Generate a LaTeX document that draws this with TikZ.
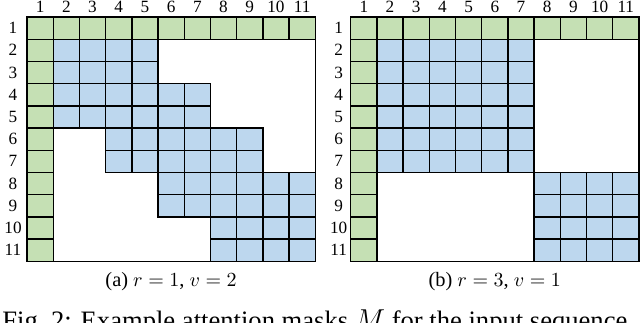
\documentclass[tikz,border=0pt]{standalone}
\usepackage{fontspec}
\setmainfont{Liberation Serif}
\usetikzlibrary{positioning}
\definecolor{keep}{HTML}{C5E0B4}
\definecolor{attend}{HTML}{BDD7EE}
\tikzset{
  cellg/.style={draw=black, line width=0.7pt, fill=keep},
  cellb/.style={draw=black, line width=0.7pt, fill=attend},
  frame/.style={draw=black, line width=0.7pt},
  idx/.style={font=\fontsize{8.6}{10}\selectfont, inner sep=0pt},
  sub/.style={font=\fontsize{10.2}{12}\selectfont, inner sep=0pt},
}
\newcommand{\cw}{26.2}
\newcommand{\ch}{22.2}

\begin{document}
\begin{tikzpicture}[x=0.5pt, y=-0.5pt]
\useasboundingbox (0,0) rectangle (640,322);

% =========================================================================
% (a) r = 1, v = 2
% =========================================================================
\begin{scope}[shift={(27,17)}]
  \draw[frame] (0,0) rectangle (11*\cw,11*\ch);
  \foreach \ra/\rb/\ca/\cb in {2/3/2/5, 4/5/2/7, 6/7/4/9, 8/9/6/11, 10/11/8/11}
    \foreach \i in {\ra,...,\rb}
      \foreach \j in {\ca,...,\cb}
        \draw[cellb] ({(\j-1)*\cw},{(\i-1)*\ch}) rectangle ++(\cw,\ch);
  \foreach \k in {1,...,11} {
    \draw[cellg] ({(\k-1)*\cw},0) rectangle ++(\cw,\ch);
    \draw[cellg] (0,{(\k-1)*\ch}) rectangle ++(\cw,\ch);
    \node[idx] (ca\k) at ({(\k-0.5)*\cw},-10) {\k};
    \node[idx] (ra\k) at (-14,{(\k-0.5)*\ch}) {\k};
  }
  \node[sub] (suba) at (5.5*\cw,265) {(a) $r=1$, $v=2$};
\end{scope}

% =========================================================================
% (b) r = 3, v = 1
% =========================================================================
\begin{scope}[shift={(350.7,17)}]
  \draw[frame] (0,0) rectangle (11*\cw,11*\ch);
  \foreach \ra/\rb/\ca/\cb in {2/7/2/7, 8/11/8/11}
    \foreach \i in {\ra,...,\rb}
      \foreach \j in {\ca,...,\cb}
        \draw[cellb] ({(\j-1)*\cw},{(\i-1)*\ch}) rectangle ++(\cw,\ch);
  \foreach \k in {1,...,11} {
    \draw[cellg] ({(\k-1)*\cw},0) rectangle ++(\cw,\ch);
    \draw[cellg] (0,{(\k-1)*\ch}) rectangle ++(\cw,\ch);
    \node[idx] (cb\k) at ({(\k-0.5)*\cw},-10) {\k};
    \node[idx] (rb\k) at (-12,{(\k-0.5)*\ch}) {\k};
  }
  \node[sub] (subb) at (5.5*\cw,265) {(b) $r=3$, $v=1$};
\end{scope}

% caption, cut by the page edge as in the source
\node[font=\fontsize{13.3}{15}\selectfont, anchor=base west, inner sep=0pt]
  (cap) at (2,329) {Fig.~2: Example attention masks $M$ for the input sequence};

\end{tikzpicture}
\end{document}
